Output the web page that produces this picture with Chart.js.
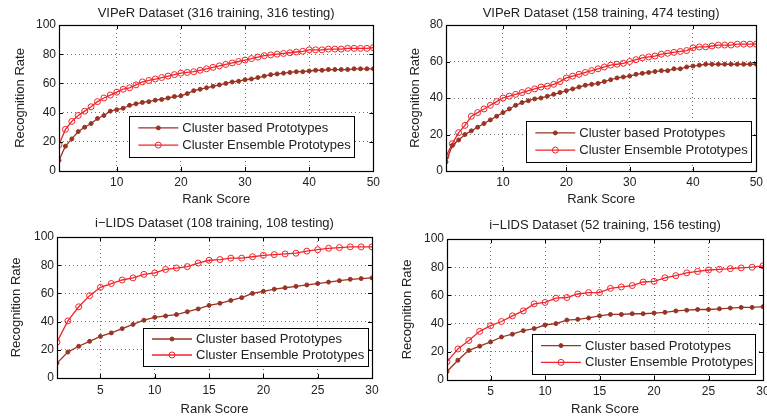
<!DOCTYPE html>
<html>
<head>
<meta charset="utf-8">
<script src="https://cdn.jsdelivr.net/npm/chart.js@4/dist/chart.umd.min.js"></script>
<style>
html, body { margin: 0; padding: 0; background: #fff; overflow: hidden; width: 767px; height: 417px; position: relative; }
canvas { position: absolute; }
</style>
</head>
<body>
<canvas id="c1" width="384" height="207" style="left:0;top:0"></canvas>
<canvas id="c2" width="383" height="207" style="left:384px;top:0"></canvas>
<canvas id="c3" width="384" height="210" style="left:0;top:207px"></canvas>
<canvas id="c4" width="400" height="210" style="left:384px;top:207px"></canvas>
<script>
// series labels
let seriesNames = ['Cluster based Prototypes', 'Cluster Ensemble Prototypes'];

// VIPeR 316/316, ranks 1..50
let viper316Based = [7.3, 17, 22, 27, 30, 32.5, 36, 38, 41, 42,
    43, 45, 46, 47, 47.5, 48.5, 49, 50, 51, 51.5,
    53, 55, 56, 57, 58, 59, 60, 61, 61.5, 62.5,
    63, 64, 65, 66, 66.5, 67, 67.5, 68, 68, 68.5,
    69, 69, 69.5, 69.5, 69.5, 69.5, 70, 70, 70, 70];
let viper316Ensemble = [18, 28.5, 34, 38, 41, 44, 47.5, 50, 52, 54,
    56, 57, 59, 61, 62, 63, 64, 65, 66, 67,
    67.5, 68, 69, 70, 71, 72, 73, 74, 75, 76,
    77, 78, 79, 79.5, 80, 80.5, 81, 81.5, 82, 83,
    83, 83, 83.5, 83.5, 83.5, 84, 84, 84, 84, 84.5];

// VIPeR 158/474, ranks 1..50
let viper158Based = [5, 14, 17, 20, 22, 24, 26, 28, 30, 32,
    34, 36, 37.5, 38.5, 39.5, 40, 41, 42, 43, 44,
    45, 46, 47, 47.5, 48, 49, 50, 51, 51.5, 52,
    53, 53.5, 54, 54.5, 55, 55, 56, 56, 57, 57.5,
    58, 58.5, 58.5, 58.5, 58.5, 58.5, 58.5, 58.5, 58.5, 58.5];
let viper158Ensemble = [8, 15, 21, 25, 30, 32, 34, 36, 38, 40,
    41, 42, 43, 44, 45, 46, 46.5, 47.5, 49, 51,
    52, 53, 54, 55, 56, 57, 58, 58.5, 59, 60,
    61, 62, 62.5, 63, 64, 64.5, 65, 65.5, 66, 67.5,
    68, 68, 68.5, 69, 69, 69, 69.5, 69.5, 69.5, 69.5];

// i-LIDS 108/108, ranks 1..30
let lids108Based = [10.6, 18.4, 22.5, 26, 29.5, 32, 35, 38, 41, 43,
    44, 45, 47, 49, 51.5, 53, 55, 57, 60, 61.5,
    63, 64, 65, 66, 67, 68, 69, 70, 70.5, 71];
let lids108Ensemble = [25.5, 40.5, 50.5, 58.4, 64.3, 67, 69.5, 71, 73.5, 74.5,
    77, 78, 79, 81.5, 83.5, 84, 85, 85, 86, 87,
    87.5, 88, 88.5, 90, 91, 92, 92.5, 93, 93, 93];

// i-LIDS 52/156, ranks 1..30
let lids52Based = [6, 14, 21, 24, 27, 30.5, 32.5, 35, 36.5, 39,
    40, 42.5, 43, 44, 45.5, 46.5, 46.5, 47, 47, 47.5,
    48, 49, 49.5, 50, 50, 50.5, 51, 51.5, 51.5, 52];
let lids52Ensemble = [13, 22, 28, 34.5, 38.5, 41.5, 45.5, 49, 54, 55,
    58, 58.5, 61, 62, 62, 65, 66, 67, 69.5, 70,
    72.5, 74, 76, 77, 78, 78.5, 79, 79.5, 80, 81];

// tick labels
let viperXTicks = [10, 20, 30, 40, 50];
let lidsXTicks = [5, 10, 15, 20, 25, 30];

let darkColor = '#983424';
let redColor = '#f0242a';
let textColor = '#222';
let fontFamily = '"Liberation Sans", Arial, sans-serif';

// box around plot area + inward ticks + title centred over the plot
let framePlugin = {
    id: 'frame',
    afterDatasetsDraw(chart, args, opts) {
        let ctx = chart.ctx;
        let a = chart.chartArea;
        let xs = chart.scales.x, ys = chart.scales.y;
        ctx.save();
        ctx.strokeStyle = '#000';
        ctx.lineWidth = 1;
        ctx.beginPath();
        xs.ticks.forEach(t => {
            let px = Math.round(xs.getPixelForValue(t.value)) + 0.5;
            ctx.moveTo(px, a.bottom); ctx.lineTo(px, a.bottom - 4);
            ctx.moveTo(px, a.top); ctx.lineTo(px, a.top + 4);
        });
        ys.ticks.forEach(t => {
            let py = Math.round(ys.getPixelForValue(t.value)) + 0.5;
            ctx.moveTo(a.left, py); ctx.lineTo(a.left + 4, py);
            ctx.moveTo(a.right, py); ctx.lineTo(a.right - 4, py);
        });
        ctx.stroke();
        ctx.lineWidth = 1.2;
        ctx.strokeRect(Math.round(a.left) + 0.5, Math.round(a.top) + 0.5,
            Math.round(a.right - a.left), Math.round(a.bottom - a.top));

        ctx.fillStyle = textColor;
        ctx.font = '13px ' + fontFamily;
        ctx.textAlign = 'center';
        ctx.textBaseline = 'middle';
        ctx.fillText(opts.text, (a.left + a.right) / 2, opts.y);
        ctx.restore();
    }
};

// legend box drawn inside the plot area
let boxLegend = {
    id: 'boxLegend',
    afterDraw(chart, args, opts) {
        let ctx = chart.ctx;
        let a = chart.chartArea;
        let x0 = a.right - opts.right - opts.w;
        let y0 = a.bottom - opts.bottom - opts.h;
        ctx.save();
        ctx.fillStyle = '#fff';
        ctx.fillRect(x0, y0, opts.w, opts.h);
        ctx.strokeStyle = '#000';
        ctx.lineWidth = 1;
        ctx.strokeRect(Math.round(x0) + 0.5, Math.round(y0) + 0.5, opts.w, opts.h);
        ctx.font = '13px ' + fontFamily;
        ctx.textBaseline = 'middle';
        let rowGap = opts.h * 0.42;
        chart.data.datasets.forEach((ds, i) => {
            let y = y0 + opts.h / 2 + (i === 0 ? -rowGap / 2 : rowGap / 2);
            ctx.strokeStyle = ds.borderColor;
            ctx.lineWidth = 1.3;
            ctx.beginPath();
            ctx.moveTo(x0 + 9, y); ctx.lineTo(x0 + 49, y);
            ctx.stroke();
            ctx.beginPath();
            ctx.arc(x0 + 29, y, ds.pointRadius, 0, Math.PI * 2);
            ctx.fillStyle = ds.pointBackgroundColor;
            ctx.fill();
            ctx.lineWidth = 1;
            ctx.stroke();
            ctx.fillStyle = textColor;
            ctx.fillText(ds.label, x0 + 53, y + 0.5);
        });
        ctx.restore();
    }
};

function makeChart(id, cfg) {
    let pts = vals => vals.map((v, i) => ({ x: i + 1, y: v }));
    let canvas = document.getElementById(id);
    let H = canvas.height, W = canvas.width;
    return new Chart(canvas.getContext('2d'), {
        type: 'line',
        data: {
            datasets: [
                {
                    label: seriesNames[0],
                    data: pts(cfg.based),
                    borderColor: darkColor,
                    backgroundColor: darkColor,
                    pointBackgroundColor: darkColor,
                    pointBorderColor: darkColor,
                    pointRadius: 2,
                    pointBorderWidth: 1,
                    borderWidth: 1.3
                },
                {
                    label: seriesNames[1],
                    data: pts(cfg.ensemble),
                    borderColor: redColor,
                    backgroundColor: redColor,
                    pointBackgroundColor: 'rgba(255,255,255,0)',
                    pointBorderColor: redColor,
                    pointRadius: 3,
                    pointBorderWidth: 1,
                    borderWidth: 1.3
                }
            ]
        },
        options: {
            responsive: false,
            animation: false,
            devicePixelRatio: 1,
            layout: { padding: { left: 0, right: W - cfg.area.right, top: cfg.area.top, bottom: 0 } },
            plugins: {
                legend: { display: false },
                tooltip: { enabled: false },
                title: { display: false },
                frame: { text: cfg.title, y: cfg.titleY },
                boxLegend: cfg.legend
            },
            scales: {
                x: {
                    type: 'linear',
                    min: 1,
                    max: cfg.xMax,
                    afterBuildTicks: s => { s.ticks = cfg.xTicks.map(v => ({ value: v })); },
                    afterFit: s => { s.height = H - cfg.area.bottom; },
                    grid: { color: 'rgba(0,0,0,0.55)', lineWidth: 1, drawTicks: false },
                    border: { display: false, dash: [1, 3] },
                    ticks: { color: textColor, padding: cfg.xTickPad, maxRotation: 0,
                        font: { family: fontFamily, size: 12 } },
                    title: { display: true, text: 'Rank Score', color: textColor,
                        font: { family: fontFamily, size: 13 },
                        padding: { top: cfg.xTitlePad, bottom: 0 } }
                },
                y: {
                    min: 0,
                    max: cfg.yMax,
                    ticks: { stepSize: 20, color: textColor, padding: 3,
                        font: { family: fontFamily, size: 12 } },
                    afterFit: s => { s.width = cfg.area.left; },
                    grid: { color: 'rgba(0,0,0,0.55)', lineWidth: 1, drawTicks: false },
                    border: { display: false, dash: [1, 3] },
                    title: { display: true, text: 'Recognition Rate', color: textColor,
                        font: { family: fontFamily, size: 13 },
                        padding: { top: cfg.yTitlePad, bottom: 0 } }
                }
            }
        },
        plugins: [framePlugin, boxLegend]
    });
}

makeChart('c1', {
    title: 'VIPeR Dataset (316 training, 316 testing)',
    based: viper316Based, ensemble: viper316Ensemble,
    xMax: 50, xTicks: viperXTicks, yMax: 100,
    area: { left: 59, right: 377, top: 25, bottom: 171 },
    titleY: 13, xTickPad: 4, xTitlePad: 2, yTitlePad: 13,
    legend: { right: 19, bottom: 14, w: 225, h: 41 }
});

makeChart('c2', {
    title: 'VIPeR Dataset (158 training, 474 testing)',
    based: viper158Based, ensemble: viper158Ensemble,
    xMax: 50, xTicks: viperXTicks, yMax: 80,
    area: { left: 62, right: 373, top: 25, bottom: 171 },
    titleY: 13, xTickPad: 4, xTitlePad: 2, yTitlePad: 24,
    legend: { right: 5, bottom: 9, w: 225, h: 41 }
});

makeChart('c3', {
    title: 'i\u2212LIDS Dataset (108 training, 108 testing)',
    based: lids108Based, ensemble: lids108Ensemble,
    xMax: 30, xTicks: lidsXTicks, yMax: 100,
    area: { left: 57, right: 372, top: 30, bottom: 171 },
    titleY: 16, xTickPad: 5, xTitlePad: 5, yTitlePad: 9,
    legend: { right: 4, bottom: 12, w: 225, h: 38 }
});

makeChart('c4', {
    title: 'i\u2212LIDS Dataset (52 training, 156 testing)',
    based: lids52Based, ensemble: lids52Ensemble,
    xMax: 30, xTicks: lidsXTicks, yMax: 100,
    area: { left: 63, right: 379, top: 32, bottom: 173 },
    titleY: 18, xTickPad: 4, xTitlePad: 2, yTitlePad: 16,
    legend: { right: 8, bottom: 6, w: 223, h: 40 }
});
</script>
</body>
</html>
